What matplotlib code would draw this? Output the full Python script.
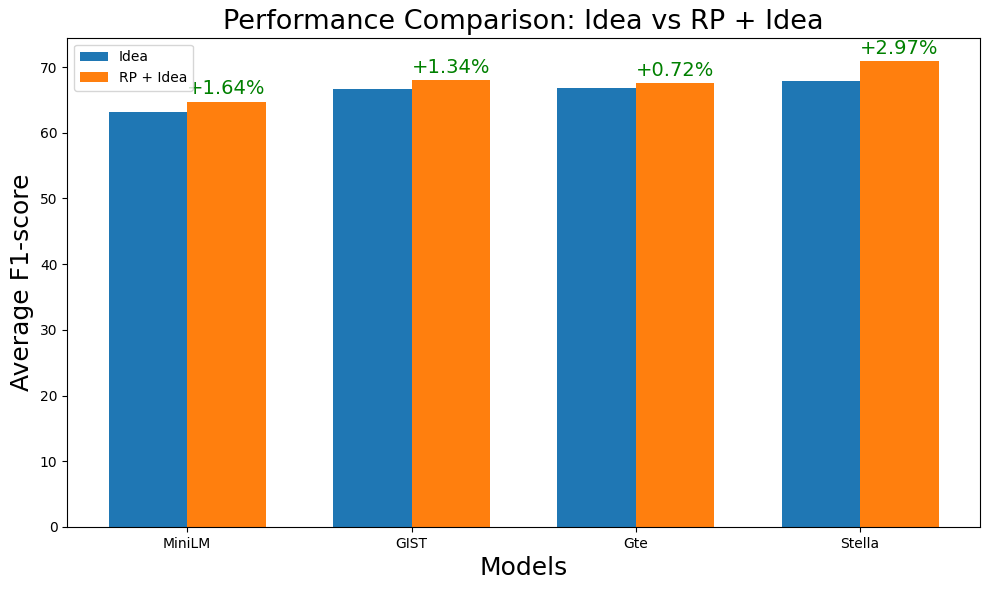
import numpy as np
import matplotlib
matplotlib.use("Agg")
import matplotlib.pyplot as plt

# Data
models = ["MiniLM", "GIST", "Gte", "Stella"]
idea = [63.10, 66.70, 66.80, 67.95]
rp_idea = [64.74, 68.04, 67.52, 70.92]

x = np.arange(len(models))
width = 0.35

fig, ax = plt.subplots(figsize=(9.89, 5.9), dpi=100)
ax.bar(x - width / 2, idea, width, label="Idea")
ax.bar(x + width / 2, rp_idea, width, label="RP + Idea")

# Improvement labels above the RP + Idea bars
for i in range(len(models)):
    diff = rp_idea[i] - idea[i]
    ax.text(x[i] + width / 2, rp_idea[i] + 0.5, f"+{diff:.2f}%",
            ha="center", va="bottom", color="green", fontsize=14)

ax.set_xlabel("Models", fontsize=18)
ax.set_ylabel("Average F1-score", fontsize=18)
ax.set_title("Performance Comparison: Idea vs RP + Idea", fontsize=19.5)
ax.set_xticks(x)
ax.set_xticklabels(models)
ax.legend(loc="upper left")

plt.subplots_adjust(left=0.068, right=0.991, top=0.936, bottom=0.107)
plt.savefig("out.png")
